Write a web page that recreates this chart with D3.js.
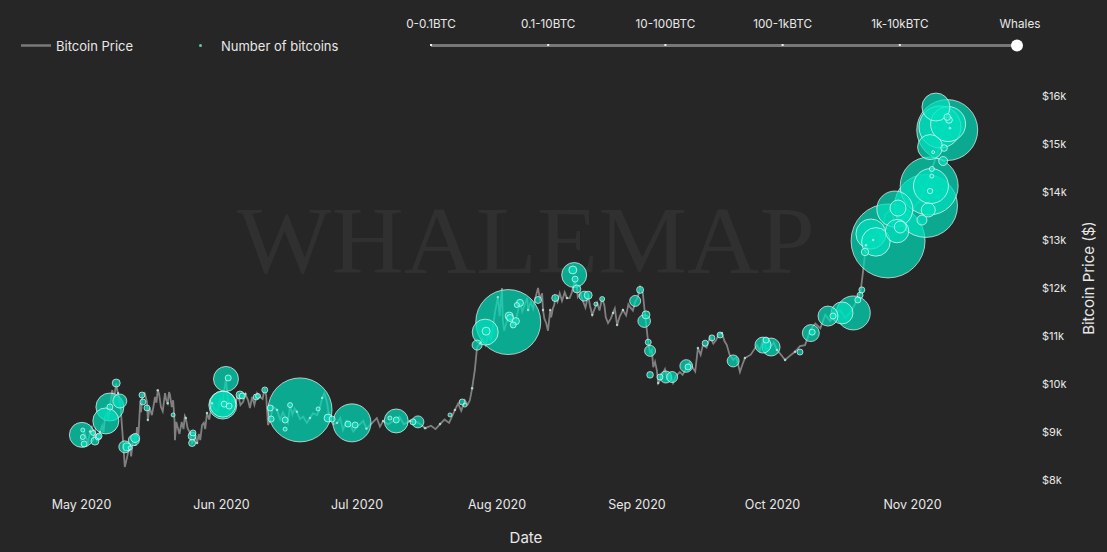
<!DOCTYPE html>
<html>
<head>
<meta charset="utf-8">
<script src="https://cdn.jsdelivr.net/npm/d3@7"></script>
<style>
body { margin: 0; background: #262626; overflow: hidden; }
text { font-family: Inter, "Open Sans", sans-serif; fill: #e8e8e8; }
</style>
</head>
<body>
<svg></svg>
<script>
// ### Data ###
var startDate = Date.UTC(2020, 4, 1)
var sizeLabels = ['0-0.1BTC', '0.1-10BTC', '10-100BTC', '100-1kBTC', '1k-10kBTC', 'Whales']
var priceTicks = [8000, 9000, 10000, 11000, 12000, 13000, 14000, 15000, 16000]

// days since 1 May 2020
var priceDays = [0,0.4,1.2,2,2.4,3.5,4.2,5.3,6.4,6.9,7.8,8.2,8.7,9,9.3,9.7,10.4,11.5,12.4,13.1,13.6,14.6,14.8,15.7,16.4,17,17.7,18.6,19.2,19.7,20.1,20.7,20.8,21.4,22.3,23.2,23.6,24.6,25.2,25.7,26.4,26.8,27.5,27.9,29,30.8,31.5,32.1,32.6,33.4,34.8,35.9,37.4,37.9,39.6,40.7,41.4,41.9,43.4,45.2,46.3,47.8,49.2,50.7,52.3,53.4,54.5,55.1,56.7,58,59.6,61.1,64,66.9,69.5,72.9,76.2,79.5,82.8,85,86.1,86.6,87.2,87.7,88.4,91.2,92.3,93.2,93.4,95,96.1,97.2,98.8,99,100.5,101.2,102.1,102.3,103,103.9,104.5,105,106,107.6,108.7,109.8,110,111.2,112.3,113.2,114.3,115.4,116.7,117.8,118.7,120,121.6,122.7,123.8,124.4,124.9,125.6,126,126.7,127.5,127.8,128.9,129.8,131.1,132.6,134.2,135.5,136.6,137.7,139.3,140.6,141.9,143,144.4,145.9,147,149.7,151,152.6,154.1,155.9,158.1,160.3,161.4,164.8,168.1,170.3,172,173.2,173.8,175.4,178,181.4,184.7,187.6,188.7,189.8,191.3,192.4]
var priceValues = [8800,8925,8850,9000,9090,8820,8990,9300,9510,9860,10000,9800,9590,9200,8820,8260,8550,8820,9090,9590,9760,9620,9240,9340,9720,9860,9510,9800,9590,9760,9510,9240,8820,9090,9200,9280,9070,8760,8925,8760,8820,9135,9050,9385,9590,9660,9720,10090,9590,9660,9760,9620,9490,9720,9720,9900,9135,9240,9450,9310,9550,9410,9310,9280,9340,9700,9590,9280,9180,9030,9135,9090,9135,9220,9240,9220,9070,9155,9450,9650,9650,9900,10280,10760,10840,11180,11800,11990,11320,11380,11260,11680,11780,11530,11740,11990,11880,11530,11260,11530,11570,11800,11880,11780,11900,11990,11800,11700,11840,11430,11680,11780,11260,11470,11220,11530,11590,11700,12010,11880,11430,10840,10640,10340,10280,10010,10220,10110,10010,10240,10340,10320,10740,10800,10970,10900,11050,10800,10490,10240,10530,10800,10900,10760,10700,10490,10660,10800,11110,11430,11530,11470,11780,12360,12880,12990,13510,13300,13720,14240,14550,14860,15380,15700]

// the smaller swings between those points
var swingDays = [0.8,1.6,2.8,3.1,3.9,4.7,5,5.8,6.1,7.3,8,10.1,10.8,11.1,11.9,12.1,12.7,13.3,14.1,15.2,16,16.7,17.3,18.1,18.9,19.5,20.4,21.1,21.8,22.7,23,24.1,25,26.1,27.2,28.4,29.5,30.2,31.2,33,34.2,35.3,36.4,37,38.4,39,40.2,41,42.5,44.1,44.7,45.8,46.8,47.3,48.5,50,51.4,52.9,53.9,54.8,55.8,57.4,58.8,60.3,62.5,63.2,65.5,66.2,68,70.5,71.5,74.5,75.3,77.5,78.5,80.5,81.5,83.5,84.2,85.6,88.9,89.6,90.3,90.8,91.7,92.7,93.7,94.3,95.5,96.6,97.7,98.3,99.6,100.1,101.6,102.6,103.4,104.1,104.8,105.5,106.5,107.1,108.2,109.3,110.6,111.7,112.7,113.7,114.8,115.9,116.2,117.3,118.2,119.3,120.7,121.2,122.2,123.3,125.3,126.4,127.1,128.4,129.3,130.4,131.7,133.2,134.8,136,137.2,138.5,140,141.2,142.5,143.6,145.1,146.4,148.3,150.3,151.8,153.4,155,157,159.2,160.9,162.6,163.7,165.9,167,169.2,171.2,172.6,176.5,177.4,179.5,180.5,182.5,183.5,185.8,186.8,190.5]
var swingValues = [8980,8780,8950,9020,8870,9120,8990,9380,9250,9680,9880,8420,8700,8480,8950,8700,8900,9400,9800,9500,9500,9600,9780,9420,9650,9820,9650,9200,8950,9050,9320,8980,8800,8950,9180,9250,9480,9420,9550,9480,9600,9550,9780,9650,9560,9800,9680,9750,9520,9250,9400,9180,9350,9480,9260,9180,9380,9500,9800,9400,9150,9280,9220,9000,9220,9060,9280,9100,9150,9310,9150,9190,9140,9120,9050,9250,9180,9580,9430,9560,10950,10800,11050,10900,11500,11400,11100,11300,11180,11450,11500,11650,11700,11560,11760,11350,11100,11380,11640,11700,11720,11900,11780,12150,11880,11580,11620,11550,11520,11620,11380,11350,11560,11400,11420,11650,11520,11800,11100,10700,10450,10100,10300,10200,10150,10180,10450,10250,10600,10750,10830,11020,10880,10600,10550,10380,10600,10680,10700,10850,10600,10580,10780,10950,11250,11150,11300,11480,11370,11620,11900,13200,13000,13650,13150,13550,13400,13800,14100,15100]

var bubbleDays = [0.2,0.4,0.4,0.7,3.1,2.7,3.8,4,5.5,6.4,8.6,7.8,6.4,9.7,10.2,11.7,12,10.9,13.5,13.7,14.6,20.4,24.6,24.6,24.8,32.1,32.6,31.4,31.4,31.7,32.8,35.2,35.7,38.8,39.2,40.7,48.5,45.2,45.2,46.3,52.5,41.9,42.1,54.7,55.6,60,59.1,60.7,69.8,69.8,68.4,74.6,73.5,81.7,84.4,85,94.6,89.5,87.7,89.7,94.8,95,96.3,95.7,97.2,96.5,101.2,109.2,108.9,109.4,109.8,111.4,112.3,105,114,115.4,122.7,123.8,124.7,125.1,125.6,126,126,128.2,129.5,130.9,134,134.4,138.2,139.7,141.5,144.4,151,152.8,151.7,159.2,161.6,161.9,165.4,168.5,171,166.5,172.5,172,172.9,178.7,174.9,176,173.6,180.2,180.9,180.7,181.4,187.1,187.8,188.2,188,187.6,186.2,188.4,188.4,190.9,191.1,191.8,192,189.3,190.2,188,192.2,191.8,192.4,188.7]
var bubblePrices = [8930,9030,8885,8740,8800,8970,8885,8905,9220,9510,9635,10010,9510,8680,8680,8820,8865,8660,9760,9615,9490,9345,8905,8760,8970,10095,10115,9550,9570,9570,9530,9760,9740,9720,9740,9865,9450,9240,9050,9550,9470,9490,9260,9280,9260,9180,9155,9135,9220,9240,9280,9200,9200,9345,9615,9550,11280,11070,10800,11090,11405,11365,11300,11220,11680,11635,11740,12260,12365,12175,11970,11820,11840,11780,11655,11760,11720,11950,11300,11430,10860,10680,10180,10135,10135,10135,10365,10345,10840,10950,11010,10470,10800,10760,10905,10655,11050,11070,11405,11470,11470,11405,11840,11740,11950,12970,13115,12950,12740,13635,13655,13175,13260,13700,14115,14115,14010,13615,13405,14470,14320,14635,14905,15280,15405,15760,15345,14925,15490,15550,15320,14820]
var bubbleBtc = [3125,80,125,180,320,125,180,180,3380,3920,980,320,180,720,320,605,405,80,180,180,180,80,320,245,180,3125,180,3920,3380,180,180,320,180,180,125,180,20480,180,80,125,80,180,180,320,180,7220,180,180,2880,180,80,720,180,80,180,80,21125,3380,500,320,320,245,245,180,245,125,245,3125,320,180,320,500,320,245,80,125,605,245,800,320,180,605,220,180,720,605,800,180,180,180,180,720,1280,1620,180,180,1445,180,2000,2420,5780,180,180,180,180,27380,4500,4090,275,6480,1280,2740,720,19845,16820,6125,145,980,500,125,80,405,220,18605,6125,3920,8820,3125,220,220,20,45]

// tiny trades along the line
var dotDays = [2,4.2,8.2,14.8,17,19.2,23.2,25.7,27.9,29,36.4,43.4,47.8,50.7,53.4,56.7,63.2,66.9,72.9,76.2,79.5,82.8,86.6,88.4,92.3,99,102.3,103.9,107.6,113.2,117.8,118.7,120,127.8,136.6,141.9,147,154.1,155.9,158.1,173.8,175.4]
var dotPrices = [9000,8990,9800,9240,9860,9590,9280,8760,9385,9590,9780,9450,9410,9280,9700,9180,9060,9220,9220,9070,9155,9450,9900,10840,11800,11530,11530,11530,11780,11430,11470,11220,11530,10010,10740,11050,10530,10700,10490,10660,12880,12990]
var dotBtc = 30

var width = 1107
var height = 552
var svg = d3.select('svg').attr('width', width).attr('height', height)

function dayToDate(d) { return new Date(startDate + d * 864e5) }

// ### Scales ###
var xScale = d3.scaleUtc()
	.domain([new Date(startDate), new Date(Date.UTC(2020, 10, 1))])
	.range([81, 912])
var yScale = d3.scaleLinear().domain([8000, 16000]).range([479.5, 95.5])
var rScale = d3.scaleSqrt().domain([0, 50000]).range([0, 50])
var sizeScale = d3.scalePoint().domain(sizeLabels).range([431, 1017])

// ### Watermark ###
svg.append('text')
	.attr('x', 526).attr('y', 273)
	.attr('text-anchor', 'middle')
	.attr('textLength', 578)
	.attr('lengthAdjust', 'spacingAndGlyphs')
	.style('font-family', '"Liberation Serif", serif')
	.style('font-size', '96px')
	.style('fill', '#303030')
	.text('WHALEMAP')

// ### Price line ###
var pricePoints = priceDays.map((d, i) => [d, priceValues[i]])
	.concat(swingDays.map((d, i) => [d, swingValues[i]]))
	.sort((a, b) => a[0] - b[0])
var line = d3.line()
	.x(d => xScale(dayToDate(d[0])))
	.y(d => yScale(d[1]))
svg.append('path')
	.attr('d', line(pricePoints))
	.attr('fill', 'none')
	.attr('stroke', '#808080')
	.attr('stroke-width', 1.8)

// ### Bubbles, big ones at the back ###
var order = d3.range(bubbleBtc.length).sort((a, b) => bubbleBtc[b] - bubbleBtc[a])
svg.selectAll('circle.bubble')
	.data(order)
	.enter()
	.append('circle')
	.attr('class', 'bubble')
	.attr('cx', i => xScale(dayToDate(bubbleDays[i])))
	.attr('cy', i => yScale(bubblePrices[i]))
	.attr('r', i => rScale(bubbleBtc[i]))
	.attr('fill', 'rgb(0,225,190)')
	.attr('fill-opacity', 0.7)
	.attr('stroke', '#fff')
	.attr('stroke-opacity', 0.65)
	.attr('stroke-width', 1)

svg.selectAll('circle.dot')
	.data(dotDays)
	.enter()
	.append('circle')
	.attr('class', 'dot')
	.attr('cx', d => xScale(dayToDate(d)))
	.attr('cy', (d, i) => yScale(dotPrices[i]))
	.attr('r', rScale(dotBtc))
	.attr('fill', '#bfeee4')
	.attr('fill-opacity', 0.8)

// ### Axes ###
var xAxis = d3.axisBottom(xScale)
	.tickValues(d3.utcMonth.range(new Date(startDate), new Date(Date.UTC(2020, 10, 2))))
	.tickFormat(d3.utcFormat('%b %Y'))
	.tickSize(0)
var gx = svg.append('g').attr('transform', 'translate(0,497)').call(xAxis)
gx.select('.domain').remove()
gx.selectAll('text').style('font-size', '12.5px').attr('dy', '0.32em').attr('y', 8)

var yAxis = d3.axisRight(yScale)
	.tickValues(priceTicks)
	.tickFormat(d => '$' + d / 1000 + 'k')
	.tickSize(0)
var gy = svg.append('g').attr('transform', 'translate(1042,0)').call(yAxis)
gy.select('.domain').remove()
gy.selectAll('text').style('font-size', '11px').attr('x', 0)

svg.append('text')
	.attr('x', 526).attr('y', 543)
	.attr('text-anchor', 'middle')
	.style('font-size', '15px')
	.text('Date')
svg.append('text')
	.attr('transform', 'translate(1094,278) rotate(-90)')
	.attr('text-anchor', 'middle')
	.style('font-size', '15px')
	.text('Bitcoin Price ($)')

// ### Legend ###
svg.append('line')
	.attr('x1', 21).attr('x2', 51).attr('y1', 45.5).attr('y2', 45.5)
	.attr('stroke', '#7a7a7a').attr('stroke-width', 2.5)
svg.append('text').attr('x', 56).attr('y', 47).attr('dy', '0.32em').style('font-size', '13px').text('Bitcoin Price')
svg.append('circle')
	.attr('cx', 200.5).attr('cy', 45.5).attr('r', 1.5)
	.attr('fill', '#5fc9b0')
svg.append('text').attr('x', 221).attr('y', 47).attr('dy', '0.32em').style('font-size', '13px').text('Number of bitcoins')

// ### Size slider ###
svg.append('line')
	.attr('x1', sizeScale.range()[0]).attr('x2', sizeScale.range()[1])
	.attr('y1', 45.5).attr('y2', 45.5)
	.attr('stroke', '#777').attr('stroke-width', 3)
svg.selectAll('rect.stop')
	.data(sizeLabels)
	.enter()
	.append('rect')
	.attr('class', 'stop')
	.attr('x', d => sizeScale(d) - 1)
	.attr('y', 44)
	.attr('width', 2).attr('height', 2)
	.attr('fill', '#eee')
svg.selectAll('text.stop')
	.data(sizeLabels)
	.enter()
	.append('text')
	.attr('class', 'stop')
	.attr('x', d => sizeScale(d) + (d == 'Whales' ? 3 : 0))
	.attr('y', 24)
	.attr('dy', '0.32em')
	.attr('text-anchor', 'middle')
	.style('font-size', '11.7px')
	.text(d => d)
svg.append('circle')
	.attr('cx', sizeScale('Whales')).attr('cy', 45.5).attr('r', 6)
	.attr('fill', '#fff')
</script>
</body>
</html>
